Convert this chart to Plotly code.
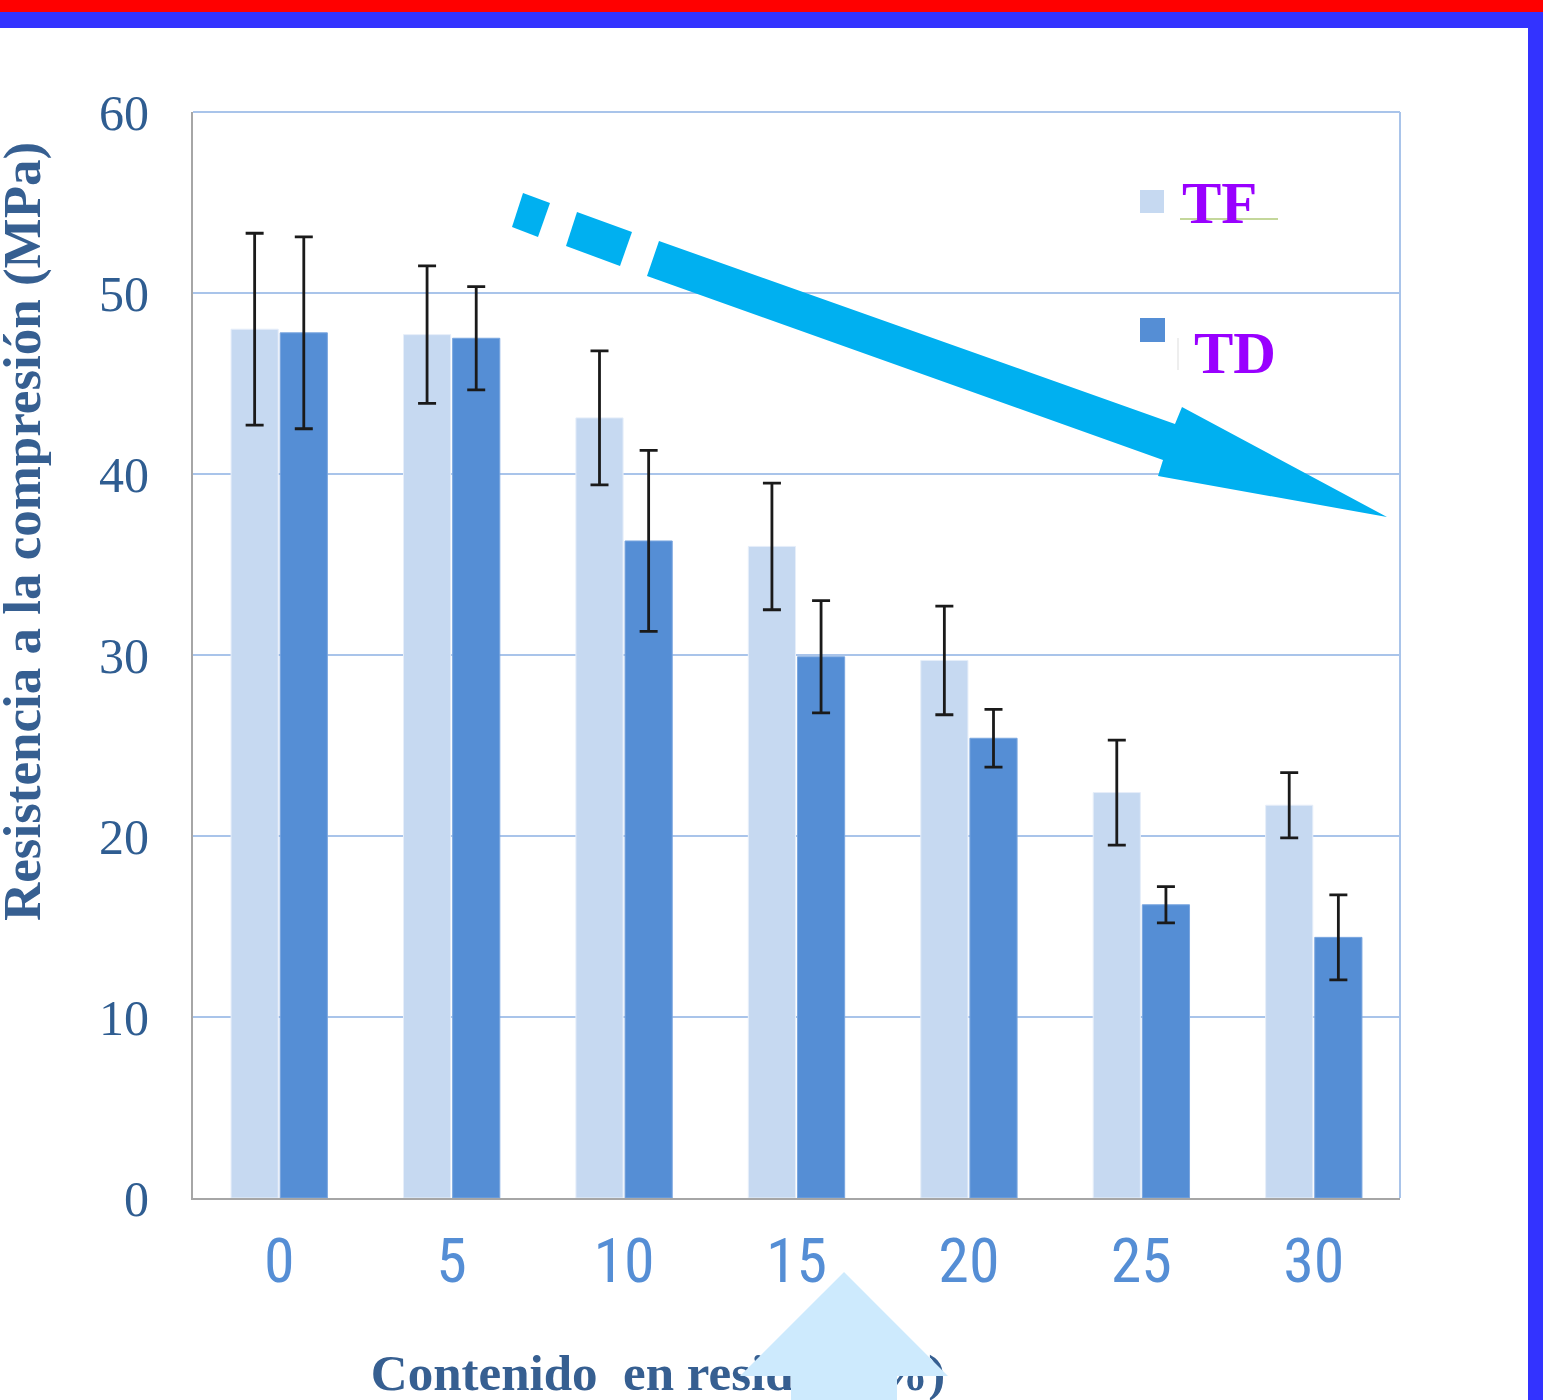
import plotly.graph_objects as go

# Compressive strength by residue content, two curing series
contenido = ["0", "5", "10", "15", "20", "25", "30"]
tf_mpa = [48.0, 47.7, 43.1, 36.0, 29.7, 22.4, 21.7]
tf_err = [5.3, 3.8, 3.7, 3.5, 3.0, 2.9, 1.8]
td_mpa = [47.8, 47.5, 36.3, 29.9, 25.4, 16.2, 14.4]
td_err = [5.3, 2.85, 5.0, 3.1, 1.6, 1.0, 2.35]

y_ticks = [0, 10, 20, 30, 40, 50, 60]

W, H = 1543, 1400
# chart area on the page, in pixels
L, R, T, B = 193, 1400, 112, 1198


def px(x):
    return x / W


def py(y):
    return 1 - y / H


def path(points):
    return "M " + " L ".join(f"{px(x):.5f},{py(y):.5f}" for x, y in points) + " Z"


TF_COLOR = "#c6d9f1"
TD_COLOR = "#558ed5"
GRID = "#a9c4ea"
AXIS_GRAY = "#a6a6a6"
TITLE_BLUE = "#365f91"
ARROW = "#00b0f0"
ARROW_LIGHT = "#cdeafd"
SERIF = "Liberation Serif, Times New Roman, serif"

fig = go.Figure()

err_style = dict(type="data", thickness=2.8, width=9, color="#1a1a1a", visible=True)

fig.add_trace(go.Bar(
    x=contenido, y=tf_mpa, name="TF",
    marker=dict(color=TF_COLOR, line=dict(color="#e6eef9", width=1)),
    error_y=dict(array=tf_err, **err_style),
))
fig.add_trace(go.Bar(
    x=contenido, y=td_mpa, name="TD",
    marker=dict(color=TD_COLOR, line=dict(color="#7aa6df", width=1)),
    error_y=dict(array=td_err, **err_style),
))

# x-axis title drawn as a text trace on a full-page pixel subplot,
# so the pointer arrow shape can sit over it
fig.add_trace(go.Scatter(
    x=[658], y=[1377], xaxis="x2", yaxis="y2",
    mode="text", text=["Contenido\u00a0 en residuo (%)"],
    textposition="middle center", cliponaxis=False, hoverinfo="skip",
    textfont=dict(family=SERIF, size=51, color=TITLE_BLUE, weight="bold"),
    showlegend=False,
))

shapes = []
# page frame
shapes.append(dict(type="rect", xref="paper", yref="paper", layer="above",
                   x0=0, x1=1, y0=py(12), y1=1,
                   fillcolor="#ff0000", line=dict(width=0)))
shapes.append(dict(type="rect", xref="paper", yref="paper", layer="above",
                   x0=0, x1=1, y0=py(28), y1=py(12),
                   fillcolor="#3333ff", line=dict(width=0)))
shapes.append(dict(type="rect", xref="paper", yref="paper", layer="above",
                   x0=px(1528), x1=1, y0=0, y1=py(12),
                   fillcolor="#3333ff", line=dict(width=0)))
# plot frame, top and right
shapes.append(dict(type="line", xref="paper", yref="paper", layer="below",
                   x0=px(L), x1=px(R), y0=py(T), y1=py(T), line=dict(color=GRID, width=2)))
shapes.append(dict(type="line", xref="paper", yref="paper", layer="below",
                   x0=px(R), x1=px(R), y0=py(B), y1=py(T), line=dict(color=GRID, width=2)))
# decreasing-trend arrow (dashed tail + solid shaft and head)
shapes.append(dict(type="path", xref="paper", yref="paper", layer="above",
                   path=path([(523, 193), (550, 203), (538, 237), (512, 227)]),
                   fillcolor=ARROW, line=dict(width=0)))
shapes.append(dict(type="path", xref="paper", yref="paper", layer="above",
                   path=path([(577, 212), (632, 232), (620, 266), (566, 246)]),
                   fillcolor=ARROW, line=dict(width=0)))
shapes.append(dict(type="path", xref="paper", yref="paper", layer="above",
                   path=path([(659, 241), (1175, 424), (1182, 407), (1387, 517),
                              (1158, 476), (1163, 460), (647, 276)]),
                   fillcolor=ARROW, line=dict(width=0)))
# pointer arrow under the 15 % group
shapes.append(dict(type="path", xref="paper", yref="paper", layer="above",
                   path=path([(844, 1272), (948, 1376), (897, 1376), (897, 1400),
                              (791, 1400), (791, 1376), (740, 1376)]),
                   fillcolor=ARROW_LIGHT, line=dict(width=0)))
# legend keys
shapes.append(dict(type="rect", xref="paper", yref="paper", layer="above",
                   x0=px(1140), x1=px(1164), y0=py(213), y1=py(190),
                   fillcolor=TF_COLOR, line=dict(width=0)))
shapes.append(dict(type="rect", xref="paper", yref="paper", layer="above",
                   x0=px(1140), x1=px(1165), y0=py(342), y1=py(318),
                   fillcolor=TD_COLOR, line=dict(width=0)))
shapes.append(dict(type="line", xref="paper", yref="paper", layer="above",
                   x0=px(1180), x1=px(1278), y0=py(219), y1=py(219),
                   line=dict(color="#c4d79b", width=2)))
shapes.append(dict(type="line", xref="paper", yref="paper", layer="above",
                   x0=px(1178), x1=px(1178), y0=py(370), y1=py(338),
                   line=dict(color="#dddddd", width=1)))

legend_font = dict(family=SERIF, size=59, color="#9900ff", weight="bold")
annotations = [
    dict(text="TF", x=px(1219), y=py(203), xref="paper", yref="paper",
         xanchor="center", yanchor="middle", showarrow=False, font=legend_font),
    dict(text="TD", x=px(1235), y=py(353), xref="paper", yref="paper",
         xanchor="center", yanchor="middle", showarrow=False, font=legend_font),
    dict(text="<b>Resistencia a la compresión (MPa)</b>", textangle=-90,
         x=px(22), y=py(532), xref="paper", yref="paper",
         xanchor="center", yanchor="middle", showarrow=False,
         font=dict(family=SERIF, size=53, color=TITLE_BLUE)),
]

fig.update_layout(
    width=W, height=H,
    margin=dict(l=0, r=0, t=0, b=0, pad=0),
    paper_bgcolor="white", plot_bgcolor="rgba(0,0,0,0)",
    barmode="group", bargap=0.43, bargroupgap=0.04,
    showlegend=False,
    shapes=shapes, annotations=annotations,
    xaxis=dict(
        domain=[px(L), px(R)], anchor="y",
        type="category", showgrid=False, zeroline=False,
        showline=True, linecolor=AXIS_GRAY, linewidth=2,
        ticks="", ticklabelstandoff=8, automargin=False,
        tickfont=dict(family="Liberation Sans Narrow, Arial Narrow, Roboto Condensed, sans-serif",
                      size=62, color=TD_COLOR),
    ),
    yaxis=dict(
        domain=[py(B), py(T)], anchor="x",
        range=[0, 60], tickvals=y_ticks, ticktext=[str(v) for v in y_ticks],
        showgrid=True, gridcolor=GRID, gridwidth=2, zeroline=False,
        showline=True, linecolor=AXIS_GRAY, linewidth=2,
        ticks="", ticklabelstandoff=32, automargin=False,
        tickfont=dict(family=SERIF, size=50, color="#2f5d91"),
    ),
    xaxis2=dict(domain=[0, 1], anchor="y2", range=[0, W], visible=False),
    yaxis2=dict(domain=[0, 1], anchor="x2", range=[H, 0], visible=False),
)

fig.write_html("out.html")
